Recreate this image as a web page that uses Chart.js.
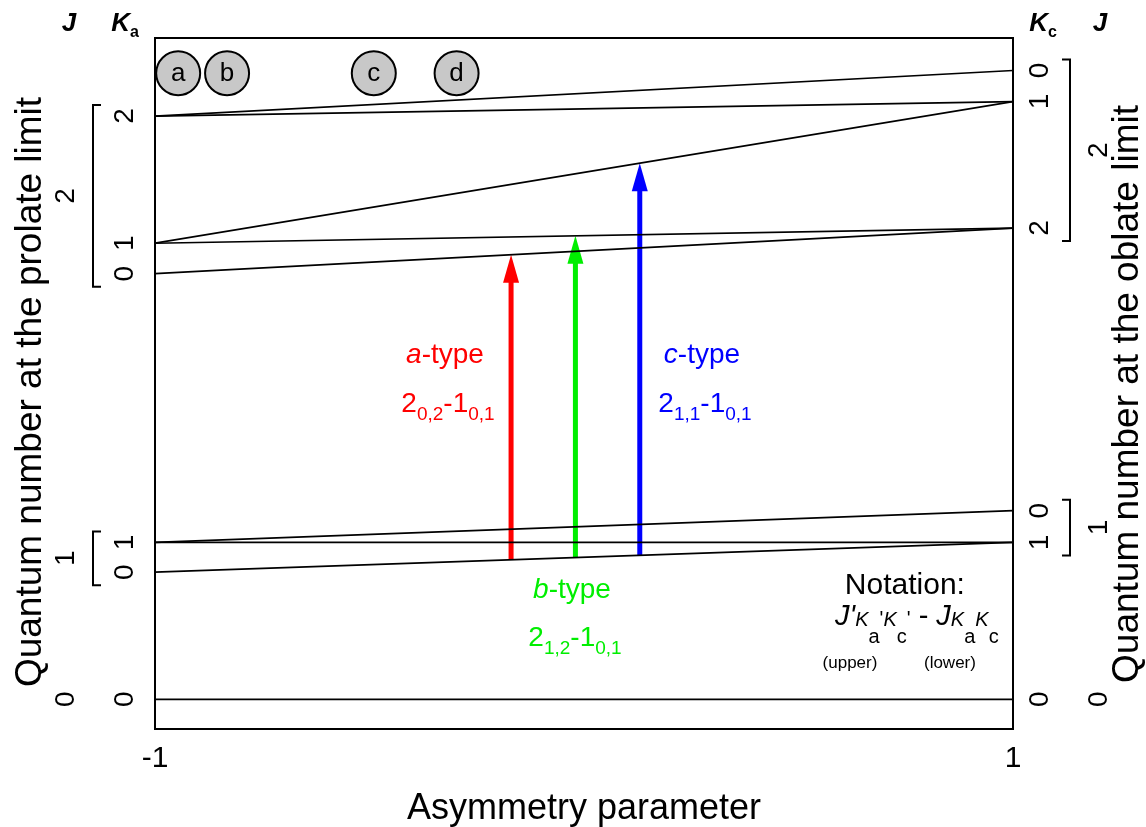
<!DOCTYPE html>
<html>
<head>
<meta charset="utf-8">
<script src="https://cdn.jsdelivr.net/npm/chart.js@4"></script>
<style>
  body { margin: 0; background: #fff; }
  #wrap { width: 1146px; height: 827px; }
</style>
</head>
<body>
<div id="wrap"><canvas id="chart"></canvas></div>
<script>
const FONT = '"Liberation Sans", Arial, sans-serif';

// rotational levels J_KaKc, energy (arbitrary units) at the prolate (-1) and oblate (+1) limits
const levelJ   = [0, 1, 1, 1, 2, 2, 2, 2, 2];
const levelKa  = [0, 0, 1, 1, 0, 1, 1, 2, 2];
const levelKc  = [0, 1, 1, 0, 2, 2, 1, 1, 0];
const prolateE = [0.43, 2.27, 2.70, 2.70, 6.59, 7.03, 7.03, 8.87, 8.87];
const oblateE  = [0.43, 2.70, 2.70, 3.16, 7.25, 7.25, 9.08, 9.08, 9.53];

// transitions drawn as arrows (indices into the level arrays)
const transKappa = [-0.17, -0.02, 0.13];
const transLower = [1, 1, 1];      // 1_01
const transUpper = [4, 5, 6];      // 2_02, 2_12, 2_11
const transType  = ['a', 'b', 'c'];
const transColor = ['#ff0000', '#00ee00', '#0000ff'];
// label spots (kappa, energy) for "x-type" and the J_KaKc formula
const typeLabelPos    = [[-0.324, 5.41], [-0.028, 2.01], [0.275, 5.41]];
const formulaLabelPos = [[-0.317, 4.73], [-0.021, 1.35], [0.282, 4.73]];

// example molecules on the asymmetry scale
const molLabels = ['a', 'b', 'c', 'd'];
const molKappa  = [-0.946, -0.832, -0.49, -0.297];
const molY = 9.49;

const HEAD_LEN = 28, HEAD_W = 16;

function levelAt(i, x) {
  return prolateE[i] + (oblateE[i] - prolateE[i]) * (x + 1) / 2;
}

let datasets = [];
levelJ.forEach((j, i) => {
  datasets.push({
    data: [{x: -1, y: prolateE[i]}, {x: 1, y: oblateE[i]}],
    showLine: true, borderColor: '#000', borderWidth: 1.7, pointRadius: 0
  });
});
transKappa.forEach((k, t) => {
  datasets.push({
    arrow: true,
    data: [{x: k, y: levelAt(transLower[t], k)}, {x: k, y: levelAt(transUpper[t], k)}],
    showLine: true, borderColor: transColor[t], borderWidth: 5, borderCapStyle: 'butt', pointRadius: 0
  });
});
datasets.push({
  molecules: true,
  data: molKappa.map(k => ({x: k, y: molY})),
  showLine: false, pointRadius: 22, pointBackgroundColor: '#c8c8c8',
  pointBorderColor: '#000', pointBorderWidth: 2
});

function drawRich(ctx, parts, cx, baseline) {
  let w = 0;
  parts.forEach(p => { ctx.font = p.font; p.w = ctx.measureText(p.t).width; w += p.w; });
  let x = cx - w / 2;
  ctx.textAlign = 'left';
  ctx.textBaseline = 'alphabetic';
  parts.forEach(p => {
    ctx.font = p.font;
    ctx.fillStyle = p.color || '#000';
    ctx.fillText(p.t, x, baseline + (p.dy || 0));
    x += p.w;
  });
}

function vText(ctx, text, x, y, font) {
  ctx.save();
  ctx.translate(x, y);
  ctx.rotate(-Math.PI / 2);
  ctx.font = font;
  ctx.fillStyle = '#000';
  ctx.textAlign = 'center';
  ctx.textBaseline = 'middle';
  ctx.fillText(text, 0, 0);
  ctx.restore();
}

// side labels: Ka/Kc per level, J with brackets
function sideLabels(ctx, ys, kVals, side, a) {
  const kx   = side < 0 ? a.left - 30 : a.right + 27;
  const bx   = side < 0 ? a.left - 62 : a.right + 57;
  const jx   = side < 0 ? a.left - 89 : a.right + 86;
  const done = {};
  ys.forEach((y, i) => {
    const key = levelJ[i] + '_' + kVals[i];
    if (done[key]) return;
    done[key] = true;
    vText(ctx, String(kVals[i]), kx, y, '28px ' + FONT);
  });
  [0, 1, 2].forEach(j => {
    const yy = ys.filter((y, i) => levelJ[i] === j);
    const top = Math.min(...yy), bot = Math.max(...yy);
    if (j === 0) { vText(ctx, '0', jx, top, '28px ' + FONT); return; }
    const t = top - 11, b = bot + 13;
    ctx.save();
    ctx.strokeStyle = '#000';
    ctx.lineWidth = 2;
    ctx.beginPath();
    ctx.moveTo(bx - side * 8, t); ctx.lineTo(bx, t); ctx.lineTo(bx, b); ctx.lineTo(bx - side * 8, b);
    ctx.stroke();
    ctx.restore();
    vText(ctx, String(j), jx, (t + b) / 2, '28px ' + FONT);
  });
}

const decor = {
  id: 'decor',
  beforeDatasetDraw(chart, args) {
    const ds = chart.data.datasets[args.index];
    if (!ds.arrow) return;
    const tip = args.meta.data[1];
    const ctx = chart.ctx;
    ctx.save();
    ctx.beginPath();
    ctx.rect(0, tip.y + HEAD_LEN * 0.6, chart.width, chart.height);
    ctx.clip();
  },
  afterDatasetDraw(chart, args) {
    const ds = chart.data.datasets[args.index];
    const ctx = chart.ctx;
    if (ds.arrow) {
      ctx.restore();
      const tip = args.meta.data[1];
      ctx.save();
      ctx.fillStyle = ds.borderColor;
      ctx.beginPath();
      ctx.moveTo(tip.x, tip.y);
      ctx.lineTo(tip.x - HEAD_W / 2, tip.y + HEAD_LEN);
      ctx.lineTo(tip.x + HEAD_W / 2, tip.y + HEAD_LEN);
      ctx.closePath();
      ctx.fill();
      ctx.restore();
    }
    if (ds.molecules) {
      ctx.save();
      ctx.font = '26px ' + FONT;
      ctx.fillStyle = '#000';
      ctx.textAlign = 'center';
      ctx.textBaseline = 'middle';
      args.meta.data.forEach((p, i) => ctx.fillText(molLabels[i], p.x, p.y + 1));
      ctx.restore();
    }
  },
  afterDatasetsDraw(chart) {
    const {ctx, chartArea: a, scales: {x: sx, y: sy}} = chart;
    ctx.save();
    ctx.strokeStyle = '#000';
    ctx.lineWidth = 2;
    ctx.strokeRect(a.left, a.top, a.right - a.left, a.bottom - a.top);

    // transition labels
    const big = '28px ' + FONT, bigI = 'italic 28px ' + FONT, sub = '19px ' + FONT;
    transType.forEach((tp, t) => {
      const c = transColor[t];
      const lp = typeLabelPos[t], fp = formulaLabelPos[t];
      drawRich(ctx, [
        {t: tp, font: bigI, color: c},
        {t: '-type', font: big, color: c}
      ], sx.getPixelForValue(lp[0]), sy.getPixelForValue(lp[1]) + 8);
      const u = transUpper[t], l = transLower[t];
      drawRich(ctx, [
        {t: String(levelJ[u]), font: big, color: c},
        {t: levelKa[u] + ',' + levelKc[u], font: sub, color: c, dy: 8},
        {t: '-' + levelJ[l], font: big, color: c},
        {t: levelKa[l] + ',' + levelKc[l], font: sub, color: c, dy: 8}
      ], sx.getPixelForValue(fp[0]), sy.getPixelForValue(fp[1]) + 10);
    });

    // notation box
    const nx = sx.getPixelForValue(0.748), ny = sy.getPixelForValue(2.11);
    drawRich(ctx, [{t: 'Notation:', font: '30px ' + FONT}], nx, ny + 11);
    const J = 'italic 29px ' + FONT, K = 'italic 20px ' + FONT, s = '20px ' + FONT;
    drawRich(ctx, [
      {t: "J'", font: J}, {t: 'K', font: K, dy: 1}, {t: 'a', font: s, dy: 18}, {t: "'", font: s},
      {t: 'K', font: K, dy: 1}, {t: 'c', font: s, dy: 18}, {t: "'", font: s},
      {t: ' - ', font: '29px ' + FONT},
      {t: 'J', font: J}, {t: 'K', font: K, dy: 1}, {t: 'a', font: s, dy: 18},
      {t: 'K', font: K, dy: 1}, {t: 'c', font: s, dy: 18}
    ], nx + 12, ny + 42);
    drawRich(ctx, [{t: '(upper)', font: '17px ' + FONT}], sx.getPixelForValue(0.62), ny + 85);
    drawRich(ctx, [{t: '(lower)', font: '17px ' + FONT}], sx.getPixelForValue(0.853), ny + 85);

    // side axes
    sideLabels(ctx, prolateE.map(v => sy.getPixelForValue(v)), levelKa, -1, a);
    sideLabels(ctx, oblateE.map(v => sy.getPixelForValue(v)), levelKc, 1, a);
    vText(ctx, 'Quantum number at the prolate limit', 31, 392, '37px ' + FONT);
    vText(ctx, 'Quantum number at the oblate limit', 1128, 394, '37px ' + FONT);

    // column headers
    const hb = 'bold italic 26px ' + FONT, hs = 'bold 16px ' + FONT;
    drawRich(ctx, [{t: 'J', font: hb}], a.left - 86, 31);
    drawRich(ctx, [{t: 'K', font: hb}, {t: 'a', font: hs, dy: 6}], a.left - 30, 31);
    drawRich(ctx, [{t: 'K', font: hb}, {t: 'c', font: hs, dy: 6}], a.right + 30, 31);
    drawRich(ctx, [{t: 'J', font: hb}], a.right + 87, 31);
    ctx.restore();
  }
};

new Chart(document.getElementById('chart'), {
  type: 'scatter',
  data: {datasets: datasets},
  options: {
    responsive: true,
    maintainAspectRatio: false,
    animation: false,
    layout: {padding: {left: 155, right: 133, top: 38, bottom: 0}},
    plugins: {legend: {display: false}, tooltip: {enabled: false}},
    scales: {
      x: {
        type: 'linear', min: -1, max: 1,
        grid: {display: false, drawTicks: false},
        border: {display: false},
        afterBuildTicks: s => { s.ticks = [{value: -1}, {value: 1}]; },
        afterFit: s => { s.height = 98; },
        ticks: {
          color: '#000', font: {size: 30, family: FONT}, padding: 12,
          maxRotation: 0, autoSkip: false, callback: v => String(v)
        },
        title: {
          display: true, text: 'Asymmetry parameter', color: '#000',
          font: {size: 36, family: FONT, lineHeight: 1}, padding: {top: 0, bottom: 0}
        }
      },
      y: {type: 'linear', min: 0, max: 10, display: false}
    }
  },
  plugins: [decor]
});
</script>
</body>
</html>
